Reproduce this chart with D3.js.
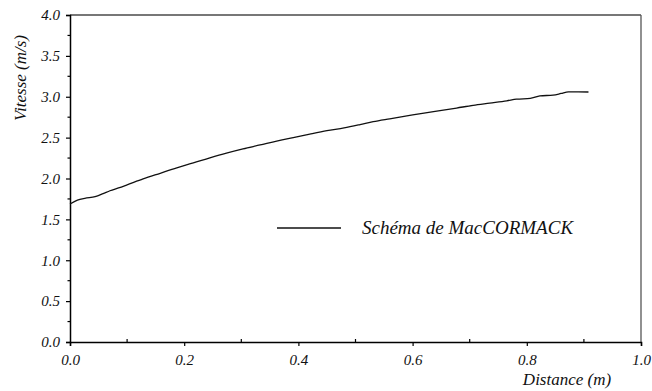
<!DOCTYPE html>
<html>
<head>
<meta charset="utf-8">
<script src="https://cdn.jsdelivr.net/npm/d3@7"></script>
<style>
  html, body { margin: 0; padding: 0; background: #fff; }
  svg { display: block; }
  text { font-family: "Liberation Serif", "Times New Roman", Times, Tinos, "DejaVu Serif", "Noto Serif", serif; font-style: italic; fill: #111; }
</style>
</head>
<body>
<svg id="chart" width="652" height="391"></svg>
<script>
// Velocity profile along the channel (MacCormack scheme)
const distance = [0.000, 0.013, 0.026, 0.044, 0.058, 0.070, 0.085, 0.099, 0.128, 0.158, 0.187, 0.216, 0.245,
  0.274, 0.303, 0.333, 0.362, 0.391, 0.420, 0.450, 0.480, 0.508, 0.531, 0.560, 0.590, 0.620, 0.648, 0.677,
  0.706, 0.735, 0.765, 0.782, 0.806, 0.823, 0.846, 0.860, 0.873, 0.890, 0.908];
const vitesse = [1.688, 1.735, 1.758, 1.778, 1.815, 1.850, 1.885, 1.920, 1.995, 2.064, 2.130, 2.190, 2.252,
  2.310, 2.362, 2.410, 2.458, 2.500, 2.543, 2.585, 2.620, 2.660, 2.695, 2.730, 2.765, 2.800, 2.830, 2.862,
  2.895, 2.922, 2.950, 2.970, 2.980, 3.010, 3.020, 3.040, 3.060, 3.060, 3.058];
const xTicks = [0, 0.2, 0.4, 0.6, 0.8, 1.0];
const yTicks = [0, 0.5, 1.0, 1.5, 2.0, 2.5, 3.0, 3.5, 4.0];
const xMinor = [0.1, 0.3, 0.5, 0.7, 0.9];
const yMinor = [0.25, 0.75, 1.25, 1.75, 2.25, 2.75, 3.25, 3.75];
const seriesName = "Schéma de MacCORMACK";
const xTitle = "Distance (m)";
const yTitle = "Vitesse (m/s)";

const serif = '"Liberation Serif", "Times New Roman", Times, Tinos, "DejaVu Serif", "Noto Serif", serif';
const svg = d3.select("#chart");
const plotLeft = 70, plotRight = 641, plotTop = 15, plotBottom = 342;

const x = d3.scaleLinear().domain([0, 1]).range([plotLeft, plotRight]);
const y = d3.scaleLinear().domain([0, 4]).range([plotBottom, plotTop]);

// frame: top and right edges in grey
svg.append("line").attr("x1", plotLeft).attr("x2", plotRight).attr("y1", plotTop).attr("y2", plotTop)
  .attr("stroke", "#777").attr("stroke-width", 2);
svg.append("line").attr("x1", plotRight).attr("x2", plotRight).attr("y1", plotTop).attr("y2", plotBottom)
  .attr("stroke", "#555").attr("stroke-width", 1.3);

// x axis
const gx = svg.append("g").attr("transform", `translate(0,${plotBottom})`)
  .call(d3.axisBottom(x).tickValues(xTicks).tickFormat(d3.format(".1f")).tickSize(4).tickPadding(8));
gx.attr("font-family", serif).attr("font-size", 15);
gx.selectAll("text").style("font-family", serif).style("font-style", "italic").style("font-size", "15px");
gx.select(".domain").attr("stroke", "#000").attr("stroke-width", 1.5);
gx.selectAll(".tick line").attr("stroke-width", 1.2);
svg.append("g").selectAll("line").data(xMinor).join("line")
  .attr("x1", d => x(d)).attr("x2", d => x(d)).attr("y1", plotBottom).attr("y2", plotBottom - 3)
  .attr("stroke", "#000").attr("stroke-width", 1.2);

// y axis
const gy = svg.append("g").attr("transform", `translate(${plotLeft},0)`)
  .call(d3.axisLeft(y).tickValues(yTicks).tickFormat(d3.format(".1f")).tickSize(4).tickPadding(6));
gy.attr("font-family", serif).attr("font-size", 15);
gy.selectAll("text").style("font-family", serif).style("font-style", "italic").style("font-size", "15px");
gy.select(".domain").attr("stroke", "#000").attr("stroke-width", 1.5);
gy.selectAll(".tick line").attr("stroke-width", 1.2);
svg.append("g").selectAll("line").data(yMinor).join("line")
  .attr("x1", plotLeft - 2.5).attr("x2", plotLeft).attr("y1", d => y(d)).attr("y2", d => y(d))
  .attr("stroke", "#000").attr("stroke-width", 1.2);

// curve
const line = d3.line().x(d => x(d)).y((d, i) => y(vitesse[i])).curve(d3.curveMonotoneX);
svg.append("path").datum(distance).attr("d", line)
  .attr("fill", "none").attr("stroke", "#111").attr("stroke-width", 1.3);

// legend
svg.append("line").attr("x1", 277).attr("x2", 341).attr("y1", 228).attr("y2", 228)
  .attr("stroke", "#111").attr("stroke-width", 1.3);
svg.append("text").attr("x", 362).attr("y", 234).style("font-family", serif).style("font-size", "19px").text(seriesName);

// axis titles
svg.append("text").attr("x", 567).attr("y", 385).attr("text-anchor", "middle")
  .style("font-family", serif).style("font-size", "17px").text(xTitle);
svg.append("text").attr("transform", "translate(26,78) rotate(-90)").attr("text-anchor", "middle")
  .style("font-family", serif).style("font-size", "17px").text(yTitle);
</script>
</body>
</html>
